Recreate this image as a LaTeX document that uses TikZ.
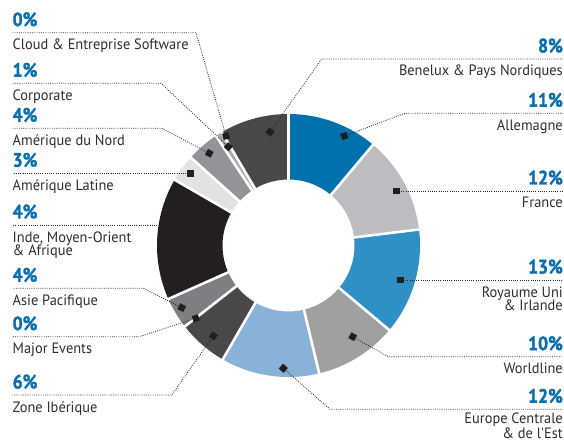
\documentclass[tikz,border=0pt]{standalone}
\usepackage{fontspec}
\setmainfont{PT Sans}
\newfontfamily\namefont{PT Sans}[FakeStretch=0.96]
\newfontfamily\pctfont{PT Sans}[FakeStretch=0.9,FakeBold=1.6]
\usetikzlibrary{calc}
\definecolor{cAll}{HTML}{0071AD}
\definecolor{cFra}{HTML}{BCBDC0}
\definecolor{cRU}{HTML}{2E90C5}
\definecolor{cWor}{HTML}{A0A0A2}
\definecolor{cEur}{HTML}{89B2D8}
\definecolor{cIbe}{HTML}{48484A}
\definecolor{cAsi}{HTML}{7E7F82}
\definecolor{cInd}{HTML}{231F20}
\definecolor{cLat}{HTML}{E1E2E3}
\definecolor{cNor}{HTML}{929497}
\definecolor{cCor}{HTML}{A7A9AC}
\definecolor{cBen}{HTML}{48484A}
\definecolor{pctblue}{HTML}{0B6FAF}
\definecolor{labgray}{HTML}{2E2E2E}
\definecolor{leadgray}{HTML}{2A2A2A}
\def\ro{131.5pt}
\def\ri{66pt}
\newcommand\ringseg[3]{\fill[#3] ($(C)+(#1:\ro)$) arc[start angle=#1,end angle=#2,radius=\ro] -- ($(C)+(#2:\ri)$) arc[start angle=#2,end angle=#1,radius=\ri] -- cycle;}
\newcommand\ringsep[1]{\draw[white,line width=2.6pt] ($(C)+(#1:64pt)$) -- ($(C)+(#1:133.5pt)$);}
\tikzset{
  leader/.style={draw=leadgray, line width=0.85pt, dash pattern=on 0.85pt off 1.35pt},
  mk/.style={fill=black!88, minimum size=6.5pt, inner sep=0pt, rectangle, draw=none},
  pct/.style={text=pctblue, font=\pctfont\bfseries\fontsize{19.5}{19.5}\selectfont, inner sep=0pt},
  lab/.style={text=labgray, font=\namefont\fontsize{15}{13.5}\selectfont, inner sep=0pt},
}
\begin{document}
\begin{tikzpicture}[x=1pt,y=1pt]
\useasboundingbox (0,0) rectangle (564,442);
\coordinate (C) at (288.5,196.5);
% ring
\ringseg{50}{90}{cAll}
\ringseg{7}{50}{cFra}
\ringseg{-40}{7}{cRU}
\ringseg{-76.5}{-40}{cWor}
\ringseg{-120}{-76.5}{cEur}
\ringseg{-142}{-120}{cIbe}
\ringseg{-156}{-142}{cAsi}
\ringseg{150}{204}{cInd}
\ringseg{138}{150}{cLat}
\ringseg{123.5}{138}{cNor}
\ringseg{120.5}{123.5}{cCor}
\ringseg{90}{120.5}{cBen}
\foreach \a in {90,50,7,-40,-76.5,-120,-142,-156,150,138,123.5,120.5} {\ringsep{\a}}
% left leaders
\coordinate (m1) at (226,306);   \coordinate (b1) at (196,409.3);   \coordinate (e1) at (12.5,409.3);
\coordinate (m2) at (228.3,295.3); \coordinate (b2) at (161,358.7); \coordinate (e2) at (12.5,358.7);
\coordinate (m3) at (209.3,288.7); \coordinate (b3) at (161.7,313.7); \coordinate (e3) at (12.5,313.7);
\coordinate (m4) at (190.7,268.7); \coordinate (e4) at (12.5,268.7);
\coordinate (m5) at (157,217); \coordinate (e5) at (12.5,217);
\coordinate (m6) at (181.7,134.3); \coordinate (b6) at (143.3,153.7); \coordinate (e6) at (12.5,153.7);
\coordinate (m7) at (195.7,123.7); \coordinate (b7) at (139.3,105.3); \coordinate (e7) at (12.5,105.3);
\coordinate (m8) at (213.3,106); \coordinate (b8) at (171.7,47); \coordinate (e8) at (12.5,47);
\draw[leader] (m1) -- node[pos=0,sloped,mk] (k1) {} (b1) -- (e1);
\draw[leader] (m2) -- node[pos=0,sloped,mk] (k2) {} (b2) -- (e2);
\draw[leader] (m3) -- node[pos=0,sloped,mk] (k3) {} (b3) -- (e3);
\draw[leader] (m4) -- node[pos=0,sloped,mk] (k4) {} (e4);
\draw[leader] (m5) -- (e5);
\draw[leader] (m6) -- node[pos=0,sloped,mk] (k6) {} (b6) -- (e6);
\draw[leader] (m7) -- node[pos=0,sloped,mk] (k7) {} (b7) -- (e7);
\draw[leader] (m8) -- node[pos=0,sloped,mk] (k8) {} (b8) -- (e8);
% right leaders
\coordinate (m9) at (270,310); \coordinate (b9) at (321.7,383); \coordinate (e9) at (563,383);
\coordinate (m10) at (344.3,306); \coordinate (b10) at (405,328.7); \coordinate (e10) at (563,328.7);
\coordinate (m11) at (396.7,251); \coordinate (e11) at (563,251);
\coordinate (m12) at (400.7,162); \coordinate (e12) at (563,162);
\coordinate (m13) at (352.7,105.3); \coordinate (b13) at (388.3,85.3); \coordinate (e13) at (563,85.3);
\coordinate (m14) at (283.3,73.7); \coordinate (b14) at (330,32.7); \coordinate (e14) at (563,32.7);
\draw[leader] (m9) -- node[pos=0,sloped,mk] (k9) {} (b9) -- (e9);
\draw[leader] (m10) -- node[pos=0,sloped,mk] (k10) {} (b10) -- (e10);
\draw[leader] (m11) -- node[pos=0,sloped,mk] (k11) {} (e11);
\draw[leader] (m12) -- node[pos=0,sloped,mk] (k12) {} (e12);
\draw[leader] (m13) -- node[pos=0,sloped,mk] (k13) {} (b13) -- (e13);
\draw[leader] (m14) -- node[pos=0,sloped,mk] (k14) {} (b14) -- (e14);
% left labels
\node[pct,anchor=base west] (p1) at (12.5,415.8) {0\%};
\node[lab,anchor=base west] (n1) at (12.5,392.3) {Cloud \& Entreprise Software};
\node[pct,anchor=base west] (p2) at (12.5,365.2) {1\%};
\node[lab,anchor=base west] (n2) at (12.5,341.7) {Corporate};
\node[pct,anchor=base west] (p3) at (12.5,320.2) {4\%};
\node[lab,anchor=base west] (n3) at (12.5,296.7) {Amérique du Nord};
\node[pct,anchor=base west] (p4) at (12.5,275.2) {3\%};
\node[lab,anchor=base west] (n4) at (12.5,251.7) {Amérique Latine};
\node[pct,anchor=base west] (p5) at (12.5,223.5) {4\%};
\node[lab,anchor=base west] (n5) at (12.5,200) {Inde, Moyen-Orient};
\node[lab,anchor=base west] (n5b) at (12.5,186.5) {\& Afrique};
\node[pct,anchor=base west] (p6) at (12.5,160.2) {4\%};
\node[lab,anchor=base west] (n6) at (12.5,136.7) {Asie Pacifique};
\node[pct,anchor=base west] (p7) at (12.5,111.8) {0\%};
\node[lab,anchor=base west] (n7) at (12.5,88.3) {Major Events};
\node[pct,anchor=base west] (p8) at (12.5,53.5) {6\%};
\node[lab,anchor=base west] (n8) at (12.5,30) {Zone Ibérique};
% right labels
\node[pct,anchor=base east] (p9) at (563,389.5) {8\%};
\node[lab,anchor=base east] (n9) at (563,366) {Benelux \& Pays Nordiques};
\node[pct,anchor=base east] (p10) at (563,335.2) {11\%};
\node[lab,anchor=base east] (n10) at (563,311.7) {Allemagne};
\node[pct,anchor=base east] (p11) at (563,257.5) {12\%};
\node[lab,anchor=base east] (n11) at (563,234) {France};
\node[pct,anchor=base east] (p12) at (563,168.5) {13\%};
\node[lab,anchor=base east] (n12) at (563,145) {Royaume Uni};
\node[lab,anchor=base east] (n12b) at (563,131.5) {\& Irlande};
\node[pct,anchor=base east] (p13) at (563,91.8) {10\%};
\node[lab,anchor=base east] (n13) at (563,68.3) {Worldline};
\node[pct,anchor=base east] (p14) at (563,39.2) {12\%};
\node[lab,anchor=base east] (n14) at (563,18.3) {Europe Centrale};
\node[lab,anchor=base east] (n14b) at (563,3.5) {\& de l'Est};
\end{tikzpicture}
\end{document}
